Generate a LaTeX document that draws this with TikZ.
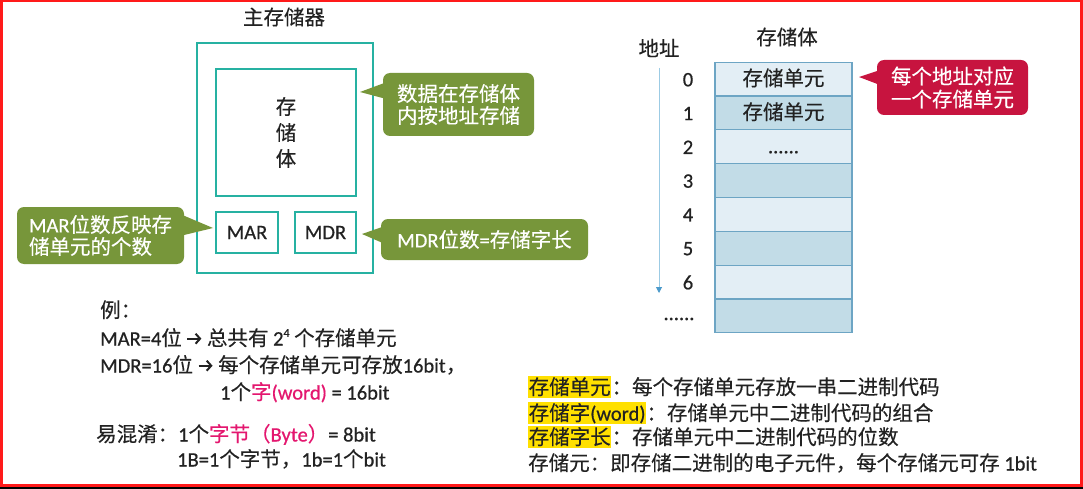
\documentclass[tikz,border=0pt]{standalone}
\usepackage{fontspec}
\setmainfont{Noto Sans CJK SC}[RawFeature={embolden=0.3}]
\newfontfamily\lat{Carlito}[RawFeature={embolden=0.6}]
\usetikzlibrary{arrows.meta}
\definecolor{tealc}{HTML}{26B1A2}
\definecolor{greenc}{HTML}{77963A}
\definecolor{redc}{HTML}{C7143F}
\definecolor{cellL}{HTML}{E3EEF5}
\definecolor{cellD}{HTML}{C2DCE7}
\definecolor{cellB}{HTML}{6DA5C4}
\definecolor{pinkc}{HTML}{E4176F}
\definecolor{hlc}{HTML}{FFE000}
\definecolor{ink}{HTML}{222222}
\definecolor{arrline}{HTML}{9CCBE4}
\definecolor{arrhead}{HTML}{4C9ACB}
\definecolor{frame}{HTML}{FF1A1A}
\newcommand\Lx[1]{{\lat #1}}
\newcommand\Arr{\tikz[baseline=-6.8pt, x=1pt, y=1pt]{\draw[ink, line width=2pt, -{Straight Barb[length=4.5pt,width=10pt,line width=2pt]}] (0,0) -- (14,0);}}
\begin{document}
\begin{tikzpicture}[x=1pt,y=-1pt,
  txt/.style={inner sep=0pt, text=ink, font=\fontsize{20.5}{24}\selectfont},
  tealbox/.style={draw=tealc, line width=2.5pt, fill=white, inner sep=0pt},
  gcall/.style={fill=greenc, rounded corners=7pt, text=white, inner sep=0pt, align=center, font=\fontsize{20.5}{22}\selectfont},
  rcall/.style={fill=redc, rounded corners=7pt, text=white, inner sep=0pt, align=center, font=\fontsize{20.5}{23}\selectfont},
  cell/.style={draw=cellB, line width=1.2pt, minimum width=137pt, minimum height=33.8pt, inner sep=0pt, text=ink, text height=16pt, text depth=3pt, font=\fontsize{20.5}{24}\selectfont},
  hl/.style={fill=hlc, inner xsep=0.5pt, inner ysep=0pt, text height=18.5pt, text depth=3pt, text=ink, font=\fontsize{20.5}{24}\selectfont},
  addr/.style={draw=arrline, line width=1pt, -{Triangle[length=6pt,width=6pt,color=arrhead]}}
]
\useasboundingbox (0,0) rectangle (1083,489);
\fill[white] (0,0) rectangle (1083,489);
% frame
\draw[frame, line width=2.5pt] (1.25,1.25) rectangle (1081.5,485.6);
\fill[black] (0,487) rectangle (1083,489);

% ---------- main memory ----------
\node[txt] (title) at (284,17) {主存储器};
\node[tealbox, minimum width=176pt, minimum height=230pt] (mem) at (285,158) {};
\node[tealbox, minimum width=140pt, minimum height=127pt, align=center, text=ink, font=\fontsize{20.5}{26}\selectfont] (body) at (286,132.5) {存\\储\\体};
\node[tealbox, minimum width=62pt, minimum height=41pt, text=ink, font=\lat\fontsize{20.5}{24}\selectfont] (mar) at (247,232.5) {MAR};
\node[tealbox, minimum width=61pt, minimum height=41pt, text=ink, font=\lat\fontsize{20.5}{24}\selectfont] (mdr) at (325.5,232.5) {MDR};

% callouts (green)
\node[gcall, minimum width=151pt, minimum height=63pt] (cb1) at (458.5,104.5) {数据在存储体\\内按地址存储};
\coordinate (t1) at (360,92);
\fill[greenc] (387,82) -- (t1) -- (390,100) -- cycle;

\node[gcall, minimum width=167pt, minimum height=57pt, align=left] (cb2) at (100.5,235.5) {\Lx{MAR}位数反映存\\储单元的个数};
\coordinate (t2) at (213,228);
\fill[greenc] (180,214) -- (t2) -- (180,236) -- cycle;

\node[gcall, minimum width=207pt, minimum height=41pt] (cb3) at (484.5,239.5) {\Lx{MDR}位数\Lx{=}存储字长};
\coordinate (t3) at (362,234);
\fill[greenc] (385,226) -- (t3) -- (385,244) -- cycle;

% ---------- storage body table ----------
\node[txt] (sttitle) at (787,37) {存储体};
\node[txt] (addrtitle) at (659,48) {地址};
\foreach \i/\col/\t in {0/cellL/存储单元, 1/cellD/存储单元, 2/cellL/\Lx{......}, 3/cellD/{}, 4/cellL/{}, 5/cellD/{}, 6/cellL/{}, 7/cellD/{}}
  {\node[cell, fill=\col] (r\i) at (783.5,{79.2+33.8*\i}) {\t};}
\foreach \i in {0,...,6}
  {\node[txt, font=\lat\fontsize{20.5}{24}\selectfont] (n\i) at (688,{79.7+33.8*\i}) {\i};}
\node[txt, font=\lat\fontsize{20.5}{24}\selectfont] (ndots) at (679,319) {......};
\coordinate (atop) at (659,68);
\coordinate (abot) at (659,293);
\draw[addr] (atop) -- (abot);

% red callout
\node[rcall, minimum width=151pt, minimum height=55pt] (cb4) at (952.5,87.5) {每个地址对应\\一个存储单元};
\coordinate (t4) at (859,77);
\fill[redc] (880,70) -- (t4) -- (880,85) -- cycle;

% ---------- example text ----------
\node[txt, anchor=base west] (e1) at (100,317.5) {例：};
\node[txt, anchor=base west] (e2) at (100,345.5) {\Lx{MAR=4}位 \Arr{} 总共有 \Lx{2\raisebox{0.42em}{\fontsize{12}{12}\selectfont 4}} 个存储单元};
\node[txt, anchor=base west] (e3) at (100,372.5) {\Lx{MDR=16}位 \Arr{} 每个存储单元可存放\Lx{16bit}，};
\node[txt, anchor=base west] (e4) at (220,399.5) {\Lx{1}个\textcolor{pinkc}{字\Lx{(word)}}\Lx{ = 16bit}};
\node[txt, anchor=base west] (e5) at (96,441.5) {易混淆：\Lx{1}个\textcolor{pinkc}{字节（\Lx{Byte}）}\Lx{= 8bit}};
\node[txt, anchor=base west] (e6) at (177,466.5) {\Lx{1B=1}个字节，\Lx{1b=1}个\Lx{bit}};

% ---------- definitions ----------
\node[hl, anchor=base west] (h1) at (528,394.5) {存储单元};
\node[txt, anchor=base west] (d1) at (h1.base east) {：每个存储单元存放一串二进制代码};
\node[hl, anchor=base west] (h2) at (528,420.5) {存储字\Lx{(word)}};
\node[txt, anchor=base west] (d2) at (h2.base east) {：存储单元中二进制代码的组合};
\node[hl, anchor=base west] (h3) at (528,444.5) {存储字长};
\node[txt, anchor=base west] (d3) at (h3.base east) {：存储单元中二进制代码的位数};
\node[txt, anchor=base west] (d4) at (528,470.5) {存储元：即存储二进制的电子元件，每个存储元可存 \Lx{1bit}};
\end{tikzpicture}
\end{document}
